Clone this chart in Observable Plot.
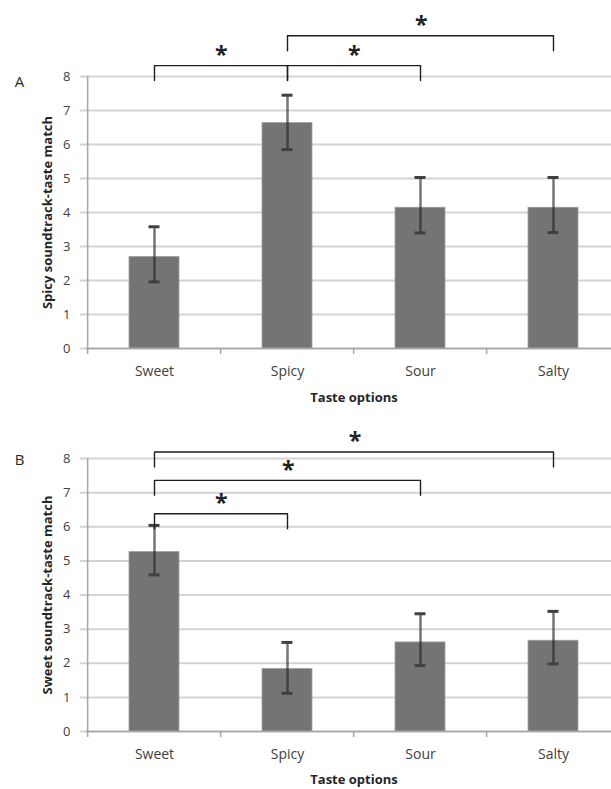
<!DOCTYPE html>
<html><head><meta charset="utf-8">
<script src="https://cdn.jsdelivr.net/npm/d3@7"></script>
<script src="https://cdn.jsdelivr.net/npm/@observablehq/plot@0.6"></script>
<style>
body{margin:0;background:#fff;}
#wrap{width:611px;height:789px;overflow:hidden;}
#wrap svg{display:block;}
</style></head><body><div id="wrap"></div>
<script>
const categories = ["Sweet", "Spicy", "Sour", "Salty"];
const yTicks = [0, 1, 2, 3, 4, 5, 6, 7, 8];

// Panel A: spicy soundtrack
const spicyMeans = [2.69, 6.63, 4.14, 4.14];
const spicyLow   = [1.96, 5.85, 3.40, 3.41];
const spicyHigh  = [3.58, 7.45, 5.03, 5.03];
const spicyBrackets = [["Sweet", "Spicy", 8.32], ["Spicy", "Sour", 8.32], ["Spicy", "Salty", 9.2]];

// Panel B: sweet soundtrack
const sweetMeans = [5.26, 1.83, 2.61, 2.66];
const sweetLow   = [4.59, 1.12, 1.93, 1.98];
const sweetHigh  = [6.04, 2.61, 3.45, 3.52];
const sweetBrackets = [["Sweet", "Salty", 8.19], ["Sweet", "Sour", 7.36], ["Sweet", "Spicy", 6.38]];

function panel({letter, letterDy, yLabel, means, low, high, brackets, height, marginTop, marginBottom, titleDy}) {
  const W = 621, ML = 86, MR = 0;
  const step = (W - ML - MR) / categories.length;
  const pxPerUnit = (height - marginTop - marginBottom) / 8;
  const rows = categories.map((c, i) => ({cat: c, mean: means[i], lo: low[i], hi: high[i]}));
  const drop = 15 / pxPerUnit;
  const bracketPts = brackets.flatMap(([a, b, lvl], k) => [
    {k, x: a, y: lvl - drop}, {k, x: a, y: lvl}, {k, x: b, y: lvl}, {k, x: b, y: lvl - drop}
  ]);
  const stars = brackets.map(([a, b, lvl]) => Plot.text([{x: a, y: lvl}], {
    x: "x", y: "y", text: () => "*",
    dx: (categories.indexOf(b) - categories.indexOf(a)) * step / 2,
    dy: -10, fontSize: 23, fontWeight: "bold", fill: "#222", lineAnchor: "middle"
  }));
  return Plot.plot({
    width: W, height, marginLeft: ML, marginRight: MR, marginTop, marginBottom,
    style: {fontFamily: "Open Sans", fontSize: "13px", color: "#404040", maxWidth: "none", overflow: "visible"},
    x: {domain: categories, paddingInner: 0.626, paddingOuter: 0.313, axis: null},
    y: {domain: [0, 8], axis: null},
    marks: [
      Plot.gridY(yTicks, {stroke: "#d3d3d3", strokeOpacity: 1, strokeWidth: 2, insetLeft: -6}),
      Plot.barY(rows, {x: "cat", y: "mean", fill: "#747474", stroke: "#a0a0a0", strokeWidth: 0.8}),
      Plot.ruleX(rows, {x: "cat", y1: "lo", y2: "hi", stroke: "#222", strokeOpacity: 0.62, strokeWidth: 2.5}),
      Plot.tickY(rows, {x: "cat", y: "lo", insetLeft: 19.5, insetRight: 19.5, stroke: "#404040", strokeWidth: 3}),
      Plot.tickY(rows, {x: "cat", y: "hi", insetLeft: 19.5, insetRight: 19.5, stroke: "#404040", strokeWidth: 3}),
      Plot.ruleY([0], {stroke: "#a6a6a6", strokeWidth: 1.5}),
      Plot.ruleX([categories[0]], {x: d => d, y1: 0, y2: 8, dx: -step / 2, stroke: "#a6a6a6", strokeWidth: 1.5}),
      Plot.ruleX(categories, {x: d => d, y1: 0, y2: -6 / pxPerUnit, dx: -step / 2, stroke: "#a6a6a6", strokeWidth: 1.5}),
      Plot.axisY(yTicks, {tickSize: 0, tickPadding: 16, fontSize: 13, label: null}),
      Plot.text(categories, {x: d => d, y: 0, dy: 23, fontSize: 14, lineAnchor: "middle", fill: "#404040"}),
      Plot.text(["Taste options"], {frameAnchor: "bottom", dy: titleDy, fontWeight: "bold", fontSize: 13, fill: "#262626", lineAnchor: "middle"}),
      Plot.text([yLabel], {frameAnchor: "left", dx: -39, rotate: -90, fontWeight: "bold", fontSize: 13, fill: "#262626", textAnchor: "middle", lineAnchor: "middle"}),
      Plot.text([letter], {frameAnchor: "top-left", dx: -67, dy: letterDy, fontSize: 15, fill: "#262626", textAnchor: "middle", lineAnchor: "middle"}),
      Plot.line(bracketPts, {x: "x", y: "y", z: "k", stroke: "#1e1e1e", strokeWidth: 1.4, strokeLinejoin: "round"}),
      ...stars
    ]
  });
}

const wrap = document.getElementById("wrap");
wrap.appendChild(panel({
  letter: "A", letterDy: 6, yLabel: "Spicy soundtrack-taste match",
  means: spicyMeans, low: spicyLow, high: spicyHigh, brackets: spicyBrackets,
  height: 405, marginTop: 76, marginBottom: 57, titleDy: 49
}));
wrap.appendChild(panel({
  letter: "B", letterDy: 2, yLabel: "Sweet soundtrack-taste match",
  means: sweetMeans, low: sweetLow, high: sweetHigh, brackets: sweetBrackets,
  height: 384, marginTop: 53, marginBottom: 58, titleDy: 48
}));
</script></body></html>
